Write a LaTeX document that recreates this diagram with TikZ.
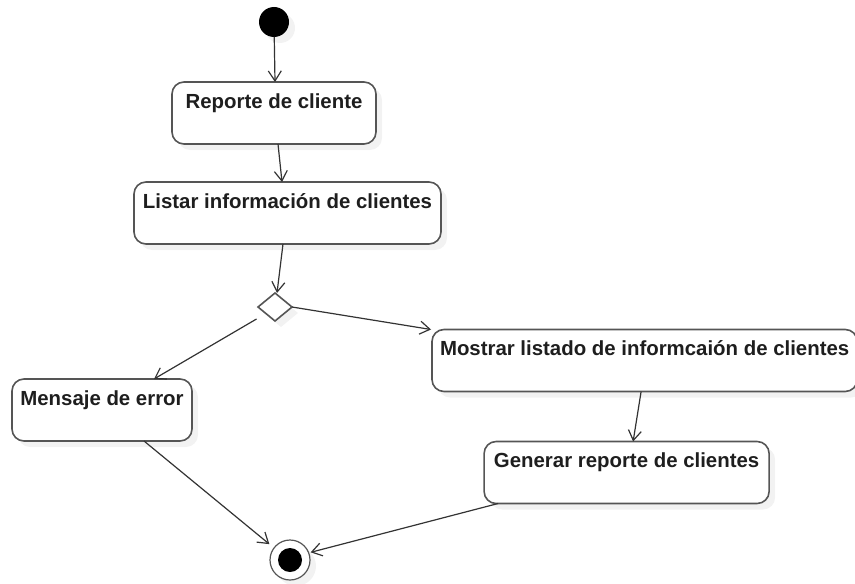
\documentclass[tikz,border=0pt]{standalone}
\usepackage{fontspec}
\setmainfont{Liberation Sans}
\usepackage{tikz}
\usetikzlibrary{arrows.meta, positioning, shapes.geometric, shadows}
\definecolor{edge}{HTML}{555555}
\definecolor{ink}{HTML}{1E1E1E}
\definecolor{wire}{HTML}{333333}

\begin{document}
\begin{tikzpicture}[
  node distance=20pt,
  soft/.style={drop shadow={opacity=0.1, shadow xshift=3pt, shadow yshift=-3pt}},
  act/.style={draw=edge, line width=0.8pt, fill=white, rounded corners=6pt,
              text height=13pt, text depth=18pt, inner ysep=0pt, inner xsep=4pt,
              outer sep=0pt, font=\bfseries\fontsize{10.2pt}{12pt}\selectfont,
              text=ink, soft},
  init/.style={circle, fill=black, minimum size=15pt, inner sep=0pt, outer sep=0pt, soft},
  final/.style={circle, draw=edge, line width=0.6pt, fill=white, minimum size=20pt,
                inner sep=0pt, outer sep=0pt, soft,
                path picture={\fill[black] (path picture bounding box.center) circle (6pt);}},
  choice/.style={diamond, draw=edge, line width=0.8pt, fill=white, minimum width=17pt,
                 minimum height=14pt, inner sep=0pt, outer sep=0pt, soft},
  arr/.style={-{Straight Barb[length=5pt, width=6.5pt]}, draw=wire, line width=0.6pt}
]
  \useasboundingbox (0,0) rectangle (427.5pt,-291.5pt);

  % Start
  \node[init] (start) at (137pt,-11pt) {};

  % Main flow
  \node[act, minimum width=102pt, below=22.5pt of start] (report) {Reporte de cliente};
  \node[act, minimum width=153.5pt, below=19pt of report, xshift=6.75pt] (list) {Listar información de clientes};
  \node[choice, below=24.5pt of list, xshift=-6.25pt] (check) {};

  % Branches
  \node[act, minimum width=90pt, below=29pt of check, xshift=-86.5pt] (error) {Mensaje de error};
  \node[act, minimum width=210.5pt, right=70pt of check, yshift=-26.75pt] (show) {Mostrar listado de informcaión de clientes};
  \node[act, minimum width=142.5pt, below=25pt of show, xshift=-9pt] (gen) {Generar reporte de clientes};

  % End
  \node[final, below=109.5pt of check, xshift=7.5pt] (stop) {};

  % Arrows
  \draw[arr] (start) -- ([xshift=0.5pt]report.north);
  \draw[arr] ([xshift=2pt]report.south) -- ([xshift=-2.75pt]list.north);
  \draw[arr] ([xshift=-2.25pt]list.south) -- ([xshift=1pt]check.north);

  \draw[arr] (check.east) -- ([xshift=-0.5pt]show.north west);
  \draw[arr] ([shift={(-5pt,-2.5pt)}]check.south west) -- ([xshift=26pt]error.north);
  \draw[arr] ([xshift=-1.75pt]show.south) -- ([xshift=3.25pt]gen.north);

  \draw[arr, shorten >=3pt] ([xshift=21pt]error.south) -- (stop.143);
  \draw[arr, shorten >=1pt] ([xshift=7pt]gen.south west) -- (stop.21);
\end{tikzpicture}
\end{document}
